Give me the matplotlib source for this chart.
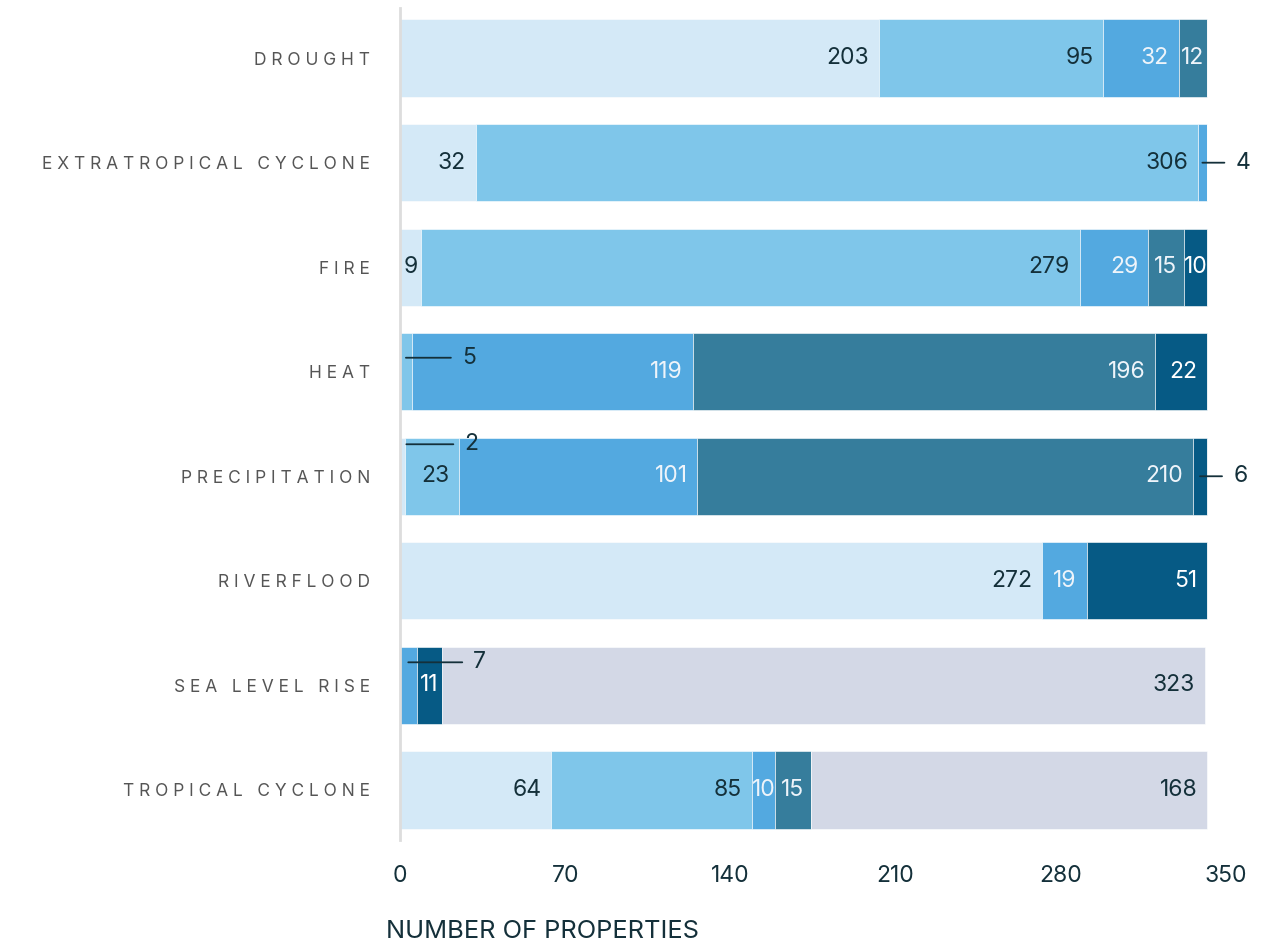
import matplotlib
matplotlib.use("Agg")
import matplotlib.pyplot as plt
from matplotlib.transforms import offset_copy

plt.rcParams['font.family'] = ['Inter', 'DejaVu Sans']

categories = ['DROUGHT', 'EXTRATROPICAL CYCLONE', 'FIRE', 'HEAT',
              'PRECIPITATION', 'RIVERFLOOD', 'SEA LEVEL RISE', 'TROPICAL CYCLONE']
very_light = [203, 32, 9, 0, 2, 272, 0, 64]
light = [95, 306, 279, 5, 23, 0, 0, 85]
medium = [32, 4, 29, 119, 101, 19, 7, 10]
teal = [12, 0, 15, 196, 210, 0, 0, 15]
navy = [0, 0, 10, 22, 6, 51, 11, 0]
no_data = [0, 0, 0, 0, 0, 0, 323, 168]
x_ticks = [0, 70, 140, 210, 280, 350]

series = [very_light, light, medium, teal, navy, no_data]
colors = ['#d4e9f7', '#7fc6ea', '#53a9e0', '#367d9c', '#065a85', '#d3d8e6']
text_colors = ['#14303a', '#14303a', '#eef4fa', '#eef4fa', '#ffffff', '#14303a']
dark = '#14303a'

# small segments labelled outside: (row, series) -> (dx px, dy px, line length px)
leaders = {(3, 1): (0, -14, 45), (4, 0): (4, -32, 47), (6, 2): (0, -23, 54),
           (1, 2): (0, 0, 22), (4, 4): (0, 0, 22)}

fig = plt.figure(figsize=(12.74, 9.44), dpi=100)
ax = fig.add_axes([400 / 1274, 1 - 840 / 944, 826 / 1274, 832 / 944])

y = list(range(len(categories)))
left = [0] * len(categories)
for s, vals in enumerate(series):
    ax.barh(y, vals, left=left, height=0.74, color=colors[s],
            edgecolor='white', linewidth=0.4)
    for i, v in enumerate(vals):
        if v == 0:
            continue
        if (i, s) in leaders:
            dx, dy, length = leaders[(i, s)]
            tr = offset_copy(ax.transData, fig=fig, x=dx * 0.72, y=-dy * 0.72,
                             units='points')
            ax.annotate(str(v), xy=(left[i] + v / 2, i), xycoords=tr,
                        xytext=(length * 0.72 + 8, 0), textcoords='offset points',
                        ha='left', va='center', fontsize=16.5, color=dark,
                        arrowprops=dict(arrowstyle='-', color=dark, lw=1.3,
                                        shrinkA=6, shrinkB=0))
        elif v < 20:
            ax.text(left[i] + v / 2, i, str(v), ha='center', va='center',
                    fontsize=16.5, color=text_colors[s])
        else:
            ax.annotate(str(v), xy=(left[i] + v, i), xytext=(-7, 0),
                        textcoords='offset points', ha='right', va='center',
                        fontsize=16.5, color=text_colors[s])
        left[i] += v

ax.set_xlim(0, 350)
ax.set_ylim(7.48, -0.48)
ax.set_xticks(x_ticks)
ax.set_xticklabels([str(t) for t in x_ticks], fontsize=16.5, color=dark)
ax.set_yticks(y)
ax.set_yticklabels([' '.join(c) for c in categories],
                   fontsize=12.5, color='#555555')
ax.tick_params(axis='both', length=0)
ax.tick_params(axis='x', pad=18)
ax.tick_params(axis='y', pad=21.5)
for side in ['top', 'right', 'bottom']:
    ax.spines[side].set_visible(False)
ax.spines['left'].set_color('#dddddd')
ax.spines['left'].set_linewidth(2)

fig.text(386 / 1274, 1 - 931 / 944, 'NUMBER OF PROPERTIES', ha='left',
         va='center', fontsize=18.3, color=dark)

fig.savefig('out.png', dpi=100)
